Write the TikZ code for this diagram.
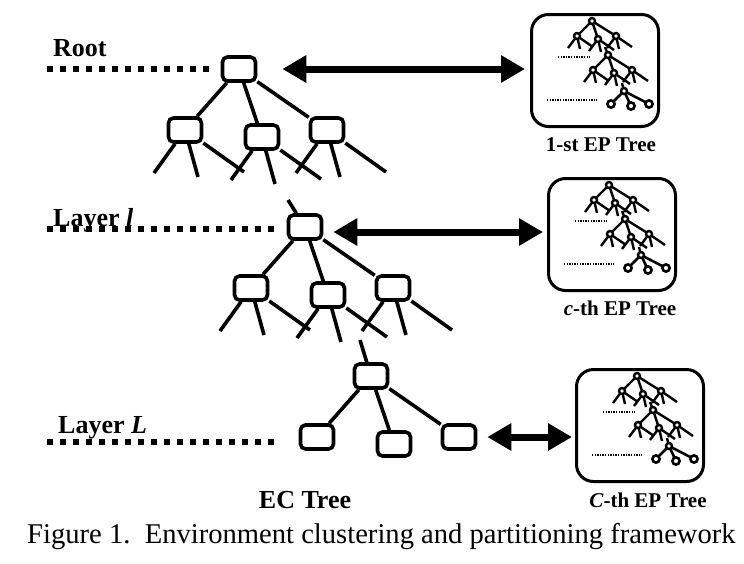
\documentclass[tikz,border=0pt]{standalone}
\usepackage{fontspec}
\setmainfont{Liberation Serif}
\usetikzlibrary{arrows.meta}

\begin{document}
\begin{tikzpicture}
  [x=1pt, y=-1pt,
   ec box/.style={draw, line width=3.6pt, rounded corners=5pt,
     minimum width=33pt, minimum height=24pt, inner sep=0pt},
   ec edge/.style={line width=3.6pt},
   layer line/.style={line width=6pt, dash pattern=on 6pt off 7pt},
   both ways/.style={line width=7pt,
     {Triangle[length=24pt,width=26pt]}-{Triangle[length=24pt,width=26pt]}},
   ep box/.style={draw, line width=3pt, rounded corners=17pt,
     minimum width=127pt, minimum height=112pt, anchor=north west},
   ep label/.style={font=\bfseries\fontsize{21}{21}\selectfont, anchor=base},
   layer label/.style={font=\bfseries\fontsize{26}{26}\selectfont, inner sep=0pt},
   mini edge/.style={line width=2.4pt},
   mini dots/.style={line width=1.3pt, dash pattern=on 1.3pt off 1.3pt},
   pics/ec tree/.style={code={
     \node[ec box] (-root) at (0,0) {};
     \node[ec box] (-a) at (-54,61) {};
     \node[ec box] (-b) at (23,68) {};
     \node[ec box] (-c) at (88,61) {};
     \foreach \child in {a,b,c}
       \draw[ec edge] (-root) -- (-\child);
   }},
   pics/ep trees/.style={code={
     \foreach \rx/\ry/\stub in {62/8/0, 78/42/1} {
       \begin{scope}[shift={(\rx,\ry)}]
         \ifnum\stub=1 \draw[mini edge] (0,0) -- (-3,-8); \fi
         \foreach \cx/\cy in {-15/15, 6/18, 24/15} {
           \draw[mini edge] (0,0) -- (\cx,\cy);
           \foreach \lx/\ly in {-9/12, 3/13, 16/11}
             \draw[mini edge] (\cx,\cy) -- ++(\lx,\ly);
           \draw[mini edge, fill=white] (\cx,\cy) circle (3pt);
         }
         \draw[mini edge, fill=white] (0,0) circle (3pt);
       \end{scope}
     }
     \begin{scope}[shift={(94,78)}]
       \draw[mini edge] (0,0) -- (-2,-8);
       \foreach \cx/\cy in {-13/13, 7/15, 25/13} {
         \draw[line width=2.6pt] (0,0) -- (\cx,\cy);
         \draw[line width=2.6pt, fill=white] (\cx,\cy) circle (3.6pt);
       }
       \draw[mini edge, fill=white] (0,0) circle (3pt);
     \end{scope}
     \draw[mini dots] (28,44) -- (60,44);
     \draw[mini dots] (17,87) -- (67,87);
   }}]

  \useasboundingbox (0,0) rectangle (744,563);

  \pic (t1) at (239,69) {ec tree};
  \pic (t2) at (305,227) {ec tree};
  \pic (t3) at (371,376) {ec tree};

  \foreach \tree in {t1,t2}
    \foreach \child in {a,b,c}
      \foreach \dx/\dy in {-31/43, 13/47, 59/42}
        \draw[ec edge] (\tree-\child) -- +(\dx,\dy);
  \draw[ec edge] (t2-root) -- +(-17,-27);
  \draw[ec edge] (t3-root) -- +(-11,-36);

  \coordinate (root start) at (47,69);
  \coordinate (l start) at (47,229);
  \coordinate (l end) at (277,229);
  \coordinate (L start) at (47,442);
  \coordinate (L end) at (277,442);
  \draw[layer line] (root start) -- ([xshift=-10pt]t1-root.west);
  \draw[layer line] (l start) -- (l end);
  \draw[layer line] (L start) -- (L end);

  \node[layer label, anchor=base west] (root label) at (53,56) {Root};
  \node[layer label, anchor=base west] (l label) at (53,226) {Layer \textit{l}};
  \node[layer label, anchor=base west] (L label) at (58,433) {Layer \textit{L}};
  \node[layer label, anchor=base] (ec label) at (305,508) {EC Tree};

  \node[ep box] (ep1) at (530,13) {};
  \node[ep box] (ep2) at (547,177) {};
  \node[ep box] (ep3) at (575,368) {};
  \pic at (ep1.north west) {ep trees};
  \pic at (ep2.north west) {ep trees};
  \pic at (ep3.north west) {ep trees};

  \node[ep label] (ep1 label) at ([xshift=6pt,yshift=-23pt]ep1.south) {1-st EP Tree};
  \node[ep label] (ep2 label) at ([xshift=8pt,yshift=-23pt]ep2.south) {\textit{c}-th EP Tree};
  \node[ep label] (ep3 label) at ([xshift=8pt,yshift=-24pt]ep3.south) {\textit{C}-th EP Tree};

  \draw[both ways] ([xshift=25pt]t1-root.east) -- ([xshift=-5pt]t1-root.east -| ep1.west);
  \draw[both ways] ([xshift=10pt,yshift=-5pt]t2-root.east) -- ([xshift=-4pt,yshift=-5pt]t2-root.east -| ep2.west);
  \draw[both ways] ([xshift=10pt]t3-c.east) -- ([xshift=-3pt]t3-c.east -| ep3.west);

  \node[anchor=base west, inner sep=0pt, font=\fontsize{28.6}{28.6}\selectfont] (caption)
    at (27,543) {Figure 1.\ \ Environment clustering and partitioning framework};
\end{tikzpicture}
\end{document}
